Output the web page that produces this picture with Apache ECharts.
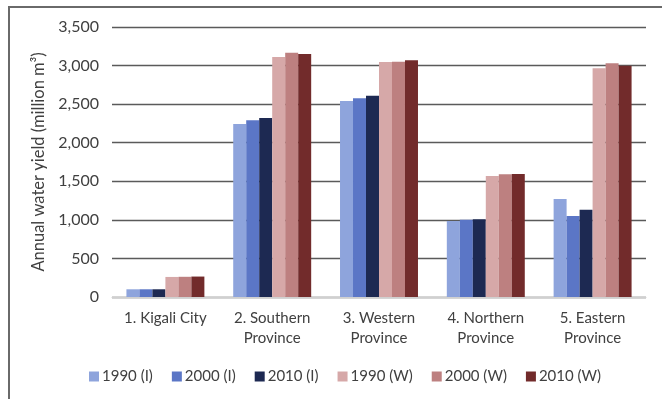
<!DOCTYPE html>
<html>
<head>
<meta charset="utf-8">
<script src="https://cdn.jsdelivr.net/npm/echarts@6/dist/echarts.min.js"></script>
<style>
  html, body { margin: 0; padding: 0; background: #fff; }
  #chart { width: 662px; height: 399px; }
</style>
</head>
<body>
<div id="chart"></div>
<script>
// Provinces of Rwanda
const categories = ['1. Kigali City', '2. Southern\nProvince', '3. Western\nProvince', '4. Northern\nProvince', '5. Eastern\nProvince'];

// Annual water yield, million m³
const y1990I = [100, 2243, 2541, 985, 1270];
const y2000I = [100, 2290, 2575, 1002, 1050];
const y2010I = [100, 2320, 2610, 1007, 1132];
const y1990W = [260, 3111, 3046, 1568, 2964];
const y2000W = [262, 3167, 3050, 1590, 3029];
const y2010W = [265, 3150, 3068, 1594, 2999];

const seriesNames = ['1990 (I)', '2000 (I)', '2010 (I)', '1990 (W)', '2000 (W)', '2010 (W)'];
const seriesColors = ['#8ea4dc', '#5b76c6', '#1d2952', '#d6a8a8', '#bd8080', '#722b2b'];
const seriesData = [y1990I, y2000I, y2010I, y1990W, y2000W, y2010W];

const FONT = 'Lato';
const chart = echarts.init(document.getElementById('chart'));

chart.setOption({
  backgroundColor: '#ffffff',
  animation: false,
  textStyle: { fontFamily: FONT },
  grid: { left: 112, right: 16, top: 27, bottom: 102 },
  legend: {
    data: seriesNames,
    left: 84,
    top: 364,
    itemWidth: 10,
    itemHeight: 10,
    itemGap: 19,
    icon: 'rect',
    textStyle: { fontFamily: FONT, fontSize: 15, color: '#404040', padding: [0, 0, 0, -2] }
  },
  xAxis: {
    type: 'category',
    data: categories,
    axisLine: { show: true, lineStyle: { color: '#d0d0d0', width: 1 } },
    axisTick: { show: false },
    axisLabel: {
      fontFamily: FONT, fontSize: 15, color: '#404040',
      lineHeight: 20, margin: 11, interval: 0
    }
  },
  yAxis: {
    type: 'value',
    min: 0,
    max: 3500,
    interval: 500,
    name: 'Annual water yield (million m³)',
    nameLocation: 'middle',
    nameGap: 60,
    nameTextStyle: { fontFamily: FONT, fontSize: 16.5, color: '#404040' },
    axisLine: { show: false },
    axisTick: { show: false },
    axisLabel: {
      fontFamily: FONT, fontSize: 16, color: '#404040', margin: 13,
      formatter: v => v.toLocaleString('en-US')
    },
    splitLine: { lineStyle: { color: '#5a5a5a', width: 1.3 } }
  },
  series: seriesData.map((d, i) => ({
    name: seriesNames[i],
    type: 'bar',
    data: d,
    barGap: '0%',
    barCategoryGap: '27%',
    itemStyle: { color: seriesColors[i] }
  })),
  graphic: [
    {
      type: 'polyline',
      shape: { points: [[9, 399], [9, 7], [662, 7]] },
      style: { stroke: '#6a6a6a', lineWidth: 2, fill: null },
      silent: true
    }
  ]
});
</script>
</body>
</html>
